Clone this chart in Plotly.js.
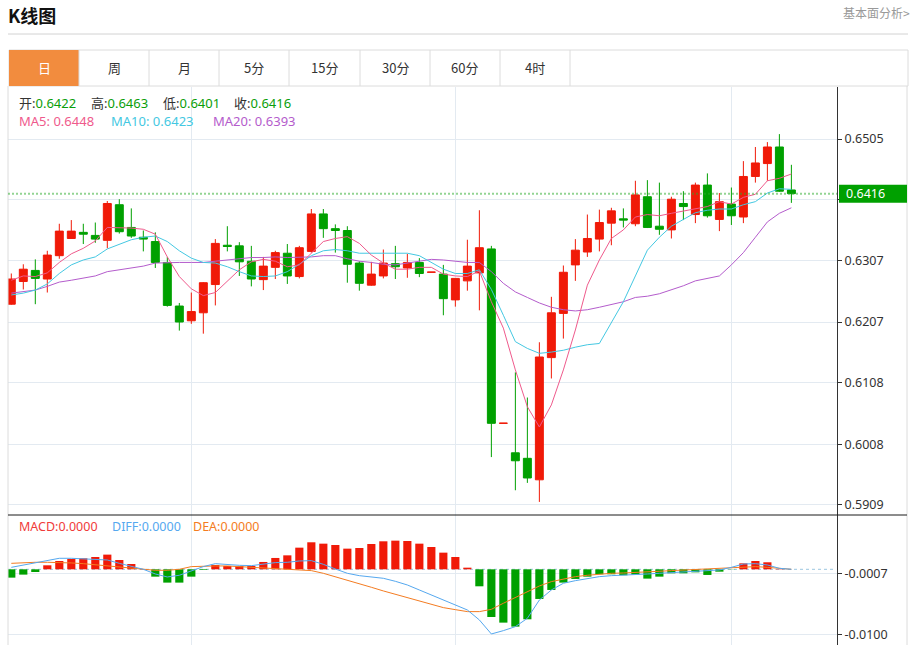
<!DOCTYPE html>
<html>
<head>
<meta charset="utf-8">
<script src="https://cdn.plot.ly/plotly-3.0.1.min.js"></script>
<style>
html,body{margin:0;padding:0;background:#fff;}
#chart{width:913px;height:645px;}
</style>
</head>
<body>
<div id="chart"></div>
<script>
// ---------- data ----------
const days = [0,1,2,3,4,5,6,7,8,9,10,11,12,13,14,15,16,17,18,19,20,21,22,23,24,25,26,27,28,29,30,31,32,33,34,35,36,37,38,39,40,41,42,43,44,45,46,47,48,49,50,51,52,53,54,55,56,57,58,59,60,61,62,63,64,65];
const monthStarts = [15, 37, 60];

const openP = [0.6236,0.6273,0.6291,0.6277,0.6315,0.6343,0.6353,0.6348,0.6340,0.6398,
  0.6361,0.6345,0.6338,0.6304,0.6233,0.6209,0.6222,0.6268,0.6332,0.6331,
  0.6306,0.6276,0.6296,0.6319,0.6281,0.6322,0.6383,0.6359,0.6356,0.6303,
  0.6267,0.6282,0.6302,0.6295,0.6304,0.6288,0.6285,0.6243,0.6274,0.6287,
  0.6326,0.6042,0.5994,0.5985,0.5950,0.6149,0.6221,0.6300,0.6321,0.6342,
  0.6368,0.6375,0.6367,0.6411,0.6363,0.6357,0.6400,0.6382,0.6430,0.6374,
  0.6399,0.6378,0.6444,0.6465,0.6492,0.6422];
const highP = [0.6286,0.6301,0.6309,0.6323,0.6367,0.6373,0.6367,0.6369,0.6404,0.6407,
  0.6392,0.6356,0.6353,0.6313,0.6238,0.6255,0.6272,0.6342,0.6363,0.6337,
  0.6331,0.6313,0.6323,0.6334,0.6331,0.6391,0.6391,0.6366,0.6363,0.6306,
  0.6305,0.6325,0.6331,0.6318,0.6311,0.62882,0.6300,0.6278,0.6341,0.6389,
  0.6331,0.60422,0.6125,0.6084,0.6174,0.6248,0.6299,0.6342,0.6382,0.6390,
  0.6393,0.6392,0.6437,0.6438,0.6434,0.6411,0.6420,0.6434,0.6449,0.6417,
  0.6426,0.6469,0.6492,0.6500,0.6513,0.6463];
const lowP = [0.6235,0.6260,0.6236,0.6255,0.6310,0.6343,0.6334,0.6336,0.6327,0.6351,
  0.6344,0.6322,0.6295,0.6232,0.6193,0.6204,0.6188,0.6234,0.6322,0.6282,
  0.6265,0.6259,0.6277,0.6269,0.6278,0.6320,0.6344,0.6320,0.6271,0.6258,
  0.6266,0.6278,0.6277,0.6279,0.6280,0.6288,0.6218,0.6232,0.6258,0.6226,
  0.5987,0.6042,0.5933,0.5945,0.5914,0.6115,0.6180,0.6274,0.6313,0.6322,
  0.6332,0.6361,0.6363,0.6360,0.6349,0.6343,0.6373,0.6368,0.6377,0.6355,
  0.6365,0.6368,0.6434,0.6437,0.6419,0.6401];
const closeP = [0.6277,0.6293,0.6278,0.6316,0.6355,0.6355,0.6350,0.6342,0.6400,0.6354,
  0.6347,0.6342,0.6304,0.6234,0.6207,0.6224,0.6271,0.6335,0.6330,0.6305,
  0.6277,0.6298,0.6320,0.6282,0.6328,0.6383,0.6359,0.6356,0.6301,0.6270,
  0.6285,0.6303,0.6297,0.6304,0.6286,0.62882,0.6245,0.6278,0.6298,0.6328,
  0.6042,0.60422,0.5981,0.5953,0.6150,0.6222,0.6288,0.6324,0.6343,0.6369,
  0.6388,0.6373,0.6414,0.6361,0.6358,0.6407,0.6395,0.6430,0.6380,0.6403,
  0.6380,0.6444,0.6466,0.6492,0.6420,0.6416];

const ma5 = [0.6275,0.6282,0.6281,0.6287,0.6304,0.6318,0.6327,0.6339,0.6361,0.6361,
  0.6360,0.6358,0.6350,0.6313,0.6281,0.6261,0.6250,0.6255,0.6273,0.6292,
  0.6305,0.6309,0.6306,0.6297,0.6300,0.6319,0.6338,0.6343,0.6346,0.6335,
  0.6316,0.6303,0.6293,0.6293,0.6296,0.6296,0.6285,0.6282,0.6281,0.6290,
  0.6240,0.6197,0.6129,0.6069,0.6036,0.6072,0.6129,0.6194,0.6267,0.6308,
  0.6343,0.6357,0.6378,0.6382,0.6380,0.6384,0.6388,0.6392,0.6395,0.6403,
  0.6399,0.6410,0.6415,0.6437,0.6441,0.6448];
const ma10 = [0.6251,0.6254,0.6259,0.6269,0.6286,0.6300,0.6308,0.6313,0.6326,0.6334,
  0.6341,0.6345,0.6347,0.6338,0.6323,0.6311,0.6304,0.6303,0.6297,0.6289,
  0.6282,0.6281,0.6282,0.6289,0.6301,0.6315,0.6323,0.6325,0.6323,0.6319,
  0.6319,0.6319,0.6318,0.6319,0.6315,0.6304,0.6293,0.6286,0.6286,0.6292,
  0.6260,0.6218,0.6175,0.6164,0.6156,0.6158,0.6161,0.6166,0.6170,0.6172,
  0.6205,0.6240,0.6282,0.6324,0.6345,0.6363,0.6374,0.6385,0.6389,0.6391,
  0.6391,0.6398,0.6403,0.6417,0.6424,0.6423];
const ma20 = [0.6254,0.6256,0.6259,0.6265,0.6272,0.6275,0.6279,0.6282,0.6289,0.6292,
  0.6294,0.6298,0.6303,0.6304,0.6304,0.6304,0.6304,0.6306,0.6308,0.6311,
  0.6312,0.6312,0.6313,0.6312,0.6312,0.6313,0.6315,0.6315,0.6310,0.6306,
  0.6304,0.6301,0.6300,0.6303,0.6307,0.6309,0.6308,0.6306,0.6304,0.6304,
  0.6289,0.6270,0.6256,0.6247,0.6238,0.6231,0.6227,0.6225,0.6227,0.6231,
  0.6236,0.6240,0.6247,0.6249,0.6253,0.6259,0.6266,0.6274,0.6278,0.6282,
  0.6300,0.6320,0.6345,0.6370,0.6384,0.6393];

const macdHist = [-0.00127,-0.00081,-0.00041,0.00061,0.00127,0.00158,0.00168,0.00188,0.00224,0.00142,
  0.00081,0.00005,-0.00112,-0.00203,-0.00203,-0.00112,-0.0001,0.00066,0.00051,0.00051,
  0.00051,0.00112,0.00173,0.00213,0.0033,0.00412,0.00391,0.00371,0.00315,0.00325,
  0.00386,0.00427,0.00437,0.00432,0.00391,0.0034,0.00254,0.00188,0.00025,-0.00259,
  -0.00727,-0.00813,-0.00874,-0.00762,-0.00452,-0.00315,-0.00203,-0.00147,-0.00112,-0.00076,
  -0.00076,-0.00091,-0.00081,-0.00142,-0.00112,-0.00061,-0.00061,-0.00046,-0.00086,-0.00036,
  -0.00003,0.00091,0.00127,0.00107,0.00005,0];
const diff = [0.0003,0.00066,0.00107,0.00142,0.00168,0.00168,0.00163,0.00152,0.00142,0.00091,
  0.00051,0,-0.00071,-0.00117,-0.00091,-0.00025,0.00041,0.00086,0.00071,0.00061,
  0.00056,0.00081,0.00102,0.00107,0.00127,0.00132,0.00076,0.00005,-0.00061,-0.00097,
  -0.00112,-0.00137,-0.00183,-0.00239,-0.00315,-0.00391,-0.00468,-0.00544,-0.0062,-0.00772,
  -0.00986,-0.00935,-0.00874,-0.00747,-0.00468,-0.00315,-0.00213,-0.00173,-0.00137,-0.00112,
  -0.00097,-0.00091,-0.00081,-0.00071,-0.00061,-0.00051,-0.00041,-0.0003,-0.00025,-0.0001,
  0.0003,0.00081,0.00086,0.00066,0.00015,0];
const dea = [0.00091,0.00102,0.00107,0.00107,0.00107,0.00097,0.00086,0.00071,0.00051,0.0003,
  0.00015,0,-0.00015,-0.00015,0,0.00041,0.00051,0.00051,0.00051,0.00041,
  0.0003,0.0002,0.0001,0.00005,0,-0.0002,-0.00061,-0.00112,-0.00173,-0.00224,
  -0.00274,-0.0033,-0.00381,-0.00437,-0.00493,-0.00544,-0.00584,-0.00615,-0.00645,-0.00645,
  -0.0061,-0.00518,-0.00427,-0.00335,-0.00254,-0.00188,-0.00147,-0.00112,-0.00091,-0.00071,
  -0.00061,-0.00056,-0.00051,-0.00041,-0.0003,-0.0002,-0.0001,0,0.00005,0.0001,
  0.0002,0.00041,0.00041,0.0003,0.0001,0];

// the 0.6406 label is hidden behind the last-price box in the reference
const priceTicks = [0.5909, 0.6008, 0.6108, 0.6207, 0.6307, 0.6406, 0.6505];
const priceTickText = ['0.5909','0.6008','0.6108','0.6207','0.6307','','0.6505'];
const macdTicks = [-0.0007, -0.0100];
const macdTickText = ['-0.0007','-0.0100'];
const tabLabels = ['日','周','月','5分','15分','30分','60分','4时'];

// ---------- styling ----------
const RED = '#f01a08', GREEN = '#00a000';
const C_MA5 = '#ef5a8c', C_MA10 = '#44c8e2', C_MA20 = '#b45ccc';
const C_DIFF = '#55a8ef', C_DEA = '#f47c22', C_MACD = '#f03a3a';
const GRID = '#e3eaf1';
const FONT = 'Noto Sans, "Noto Sans CJK SC", sans-serif';
const CJK = '"Noto Sans CJK SC", "Noto Sans", sans-serif';

const W = 913, H = 645, ML = 8, MR = 76, MT = 87, MB = 0;
const PW = W - ML - MR, PH = H - MT - MB;
const X = px => (px - ML) / PW;
const Y = py => (H - MB - py) / PH;
const split = Y(515);

const n = days.length;
const last = n - 1;
const fmt = v => v.toFixed(4);

const traces = [
  {type:'candlestick', x:days, open:openP, high:highP, low:lowP, close:closeP,
   xaxis:'x', yaxis:'y', whiskerwidth:0,
   increasing:{line:{color:RED, width:1}, fillcolor:RED},
   decreasing:{line:{color:GREEN, width:1}, fillcolor:GREEN},
   hoverinfo:'skip'},
  {type:'scatter', mode:'lines', x:days, y:ma20, xaxis:'x', yaxis:'y', line:{color:C_MA20, width:1}, hoverinfo:'skip'},
  {type:'scatter', mode:'lines', x:days, y:ma10, xaxis:'x', yaxis:'y', line:{color:C_MA10, width:1}, hoverinfo:'skip'},
  {type:'scatter', mode:'lines', x:days, y:ma5, xaxis:'x', yaxis:'y', line:{color:C_MA5, width:1}, hoverinfo:'skip'},
  {type:'bar', x:days, y:macdHist, xaxis:'x2', yaxis:'y2', width:0.68,
   marker:{color: macdHist.map(v => v >= 0 ? RED : GREEN), line:{width:0}}, hoverinfo:'skip'},
  {type:'scatter', mode:'lines', x:days, y:dea, xaxis:'x2', yaxis:'y2', line:{color:C_DEA, width:1}, hoverinfo:'skip'},
  {type:'scatter', mode:'lines', x:days, y:diff, xaxis:'x2', yaxis:'y2', line:{color:C_DIFF, width:1}, hoverinfo:'skip'}
];

const shapes = [];
const line = (x0,y0,x1,y1,color,width,extra) => Object.assign({type:'line', xref:'paper', yref:'paper',
  x0:X(x0), y0:Y(y0), x1:X(x1), y1:Y(y1), line:{color:color, width:width}}, extra||{});
// header underline
shapes.push(line(8,34,908,34,'#d2d2d2',1));
// tab bar
shapes.push({type:'rect', xref:'paper', yref:'paper', x0:X(9), x1:X(908), y0:Y(86), y1:Y(50),
  line:{color:'#dcdcdc', width:1}, fillcolor:'#ffffff'});
shapes.push({type:'rect', xref:'paper', yref:'paper', x0:X(9), x1:X(79), y0:Y(86), y1:Y(50),
  line:{width:0}, fillcolor:'#f28c3e'});
[79,149,219,289,360,430,500,570].forEach(px => shapes.push(line(px,50,px,86,'#dcdcdc',1)));
// panel borders
shapes.push(line(8,86,8,645,'#dcdcdc',1));
shapes.push(line(907,86,907,645,'#dcdcdc',1));
// separator between price and MACD panels
shapes.push(line(8,515,907,515,'#1a1a1a',1));
// last price dotted line
shapes.push({type:'line', xref:'paper', x0:0, x1:1, yref:'y', y0:closeP[last], y1:closeP[last],
  line:{color:'rgba(40,170,40,0.5)', width:2, dash:'2px,2px'}, layer:'above'});
// last price label box
shapes.push({type:'rect', xref:'paper', x0:X(839), x1:X(907), yref:'y', ysizemode:'pixel',
  yanchor:closeP[last], y0:-9, y1:9, fillcolor:GREEN, line:{width:0}, layer:'above'});
// MACD zero line
shapes.push({type:'line', xref:'paper', x0:0, x1:X(834), yref:'y2', y0:0, y1:0,
  line:{color:'#9cc6e0', width:1, dash:'3px,3px'}, layer:'below'});

const ann = [];
const txt = (px, py, text, opts) => Object.assign({xref:'paper', yref:'paper', x:X(px), y:Y(py),
  text:text, showarrow:false, xanchor:'left', yanchor:'middle', borderpad:0,
  font:{family:FONT, size:13, color:'#333'}}, opts||{});
ann.push(txt(7, 15, '<b>K线图</b>', {font:{family:CJK, size:18, color:'#111'}}));
ann.push(txt(911, 13, '基本面分析&gt;', {xanchor:'right', font:{family:CJK, size:12, color:'#999'}}));
const tabCenters = [44,114,184,254,324,395,465,535];
tabLabels.forEach((t,i) => ann.push(txt(tabCenters[i], 68, t, {xanchor:'center',
  font:{family:CJK, size:13, color: i === 0 ? '#ffffff' : '#333'}})));
const G = '#0a9e0a';
const ohlcLab = [['开', openP[last], 18], ['高', highP[last], 90], ['低', lowP[last], 162], ['收', closeP[last], 233]];
ohlcLab.forEach(a => ann.push(txt(a[2], 103, a[0] + ':<span style="color:' + G + '">' + fmt(a[1]) + '</span>',
  {font:{family:FONT, size:13, color:'#333'}})));
ann.push(txt(18, 121, 'MA5: ' + fmt(ma5[last]), {font:{family:FONT, size:13, color:C_MA5}}));
ann.push(txt(110, 121, 'MA10: ' + fmt(ma10[last]), {font:{family:FONT, size:13, color:C_MA10}}));
ann.push(txt(212, 121, 'MA20: ' + fmt(ma20[last]), {font:{family:FONT, size:13, color:C_MA20}}));
ann.push(txt(18, 526, 'MACD:' + fmt(macdHist[last]), {font:{family:FONT, size:12.5, color:C_MACD}}));
ann.push(txt(111, 526, 'DIFF:' + fmt(diff[last]), {font:{family:FONT, size:12.5, color:C_DIFF}}));
ann.push(txt(192, 526, 'DEA:' + fmt(dea[last]), {font:{family:FONT, size:12.5, color:C_DEA}}));
// last price label text
ann.push({xref:'paper', x:X(845), yref:'y', y:closeP[last], text:fmt(closeP[last]), showarrow:false,
  xanchor:'left', yanchor:'middle', borderpad:0, font:{family:FONT, size:12.5, color:'#ffffff'}});

const xCommon = {range:[-0.275, 68.8], showticklabels:false, tickvals:monthStarts, ticks:'',
  showgrid:true, gridcolor:GRID, gridwidth:1, zeroline:false, showline:false, fixedrange:true};

const layout = {
  width:W, height:H,
  margin:{l:ML, r:MR, t:MT, b:MB, pad:0},
  paper_bgcolor:'#ffffff', plot_bgcolor:'#ffffff',
  showlegend:false, hovermode:false,
  boxgap:0.22, boxgroupgap:0.15,
  font:{family:FONT, size:12, color:'#333'},
  xaxis:Object.assign({}, xCommon, {anchor:'y', domain:[0,1], rangeslider:{visible:false}}),
  xaxis2:Object.assign({}, xCommon, {anchor:'y2', domain:[0,1]}),
  yaxis:{domain:[split,1], anchor:'x', side:'right', range:[0.58927, 0.65897],
    tickvals:priceTicks, ticktext:priceTickText, showline:true, linecolor:'#333', linewidth:1,
    ticks:'outside', ticklen:4, tickcolor:'#333', showgrid:true, gridcolor:GRID, zeroline:false,
    tickfont:{family:FONT, size:12.5, color:'#333'}, fixedrange:true},
  yaxis2:{domain:[0,split], anchor:'x2', side:'right', range:[-0.01154, 0.00828],
    tickvals:macdTicks, ticktext:macdTickText, showline:true, linecolor:'#333', linewidth:1,
    ticks:'outside', ticklen:4, tickcolor:'#333', showgrid:true, gridcolor:GRID, zeroline:false,
    tickfont:{family:FONT, size:12.5, color:'#333'}, fixedrange:true},
  shapes:shapes,
  annotations:ann
};

Plotly.newPlot('chart', traces, layout, {displayModeBar:false, staticPlot:true});
</script>
</body>
</html>
